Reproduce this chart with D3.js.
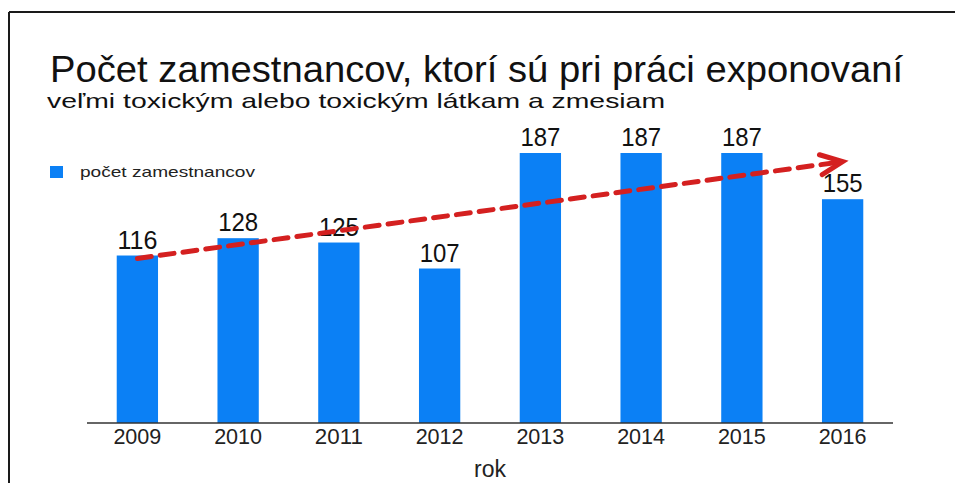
<!DOCTYPE html>
<html>
<head>
<meta charset="utf-8">
<script src="https://cdn.jsdelivr.net/npm/d3@7/dist/d3.min.js"></script>
<style>
  html, body { margin: 0; padding: 0; background: #fff; }
  svg { display: block; font-family: "Liberation Sans", Arial, sans-serif; }
</style>
</head>
<body>
<svg id="chart" width="955" height="483"></svg>
<script>
// ---- data ----
const years = ["2009", "2010", "2011", "2012", "2013", "2014", "2015", "2016"];
const employees = [116, 128, 125, 107, 187, 187, 187, 155];
const seriesName = "počet zamestnancov";
const titleText = "Počet zamestnancov, ktorí sú pri práci exponovaní";
const subtitleText = "veľmi toxickým alebo toxickým látkam a zmesiam";
const xAxisTitle = "rok";
// trend arrow (annotation), in data terms: [category, value]
const trendStart = ["2009", 114];
const trendEnd = ["2016", 181];

// ---- layout ----
const svg = d3.select("#chart");
const W = 955, H = 483;

// frame (top and left border)
svg.append("line").attr("x1", 9).attr("y1", 12).attr("x2", W).attr("y2", 12)
  .attr("stroke", "#1a1a1a").attr("stroke-width", 2);
svg.append("line").attr("x1", 9).attr("y1", 12).attr("x2", 9).attr("y2", H)
  .attr("stroke", "#1a1a1a").attr("stroke-width", 2);

// titles
svg.append("text").attr("x", 50).attr("y", 82)
  .attr("font-size", 37.5).attr("fill", "#111")
  .attr("textLength", 853).attr("lengthAdjust", "spacingAndGlyphs")
  .text(titleText);
svg.append("text").attr("x", 47).attr("y", 108)
  .attr("font-size", 21).attr("fill", "#111")
  .attr("textLength", 618).attr("lengthAdjust", "spacingAndGlyphs")
  .text(subtitleText);

// scales
const x = d3.scaleBand().domain(years).range([87, 893]).paddingInner(0.59).paddingOuter(0.295);
const y = d3.scaleLinear().domain([0, 187]).range([423, 153]);

// legend
svg.append("rect").attr("x", 50).attr("y", 166).attr("width", 13).attr("height", 12)
  .attr("fill", "#0b80f5");
svg.append("text").attr("x", 80).attr("y", 177)
  .attr("font-size", 15).attr("fill", "#222")
  .attr("textLength", 175).attr("lengthAdjust", "spacingAndGlyphs")
  .text(seriesName);

// bars
const data = years.map((yr, i) => ({ year: yr, value: employees[i] }));
svg.append("g").selectAll("rect").data(data).join("rect")
  .attr("x", d => x(d.year))
  .attr("y", d => y(d.value))
  .attr("width", x.bandwidth())
  .attr("height", d => y(0) - y(d.value))
  .attr("fill", "#0b80f5");

// value labels
svg.append("g").selectAll("text").data(data).join("text")
  .attr("x", d => x(d.year) + x.bandwidth() / 2)
  .attr("y", d => y(d.value) - 7)
  .attr("text-anchor", "middle")
  .attr("font-size", 26).attr("fill", "#111")
  .attr("textLength", 40).attr("lengthAdjust", "spacingAndGlyphs")
  .text(d => d.value);

// x axis
const xAxis = d3.axisBottom(x).tickSize(0).tickPadding(0);
const gx = svg.append("g").attr("transform", `translate(0,${y(0)})`).call(xAxis);
gx.select(".domain").attr("stroke", "#333").attr("stroke-width", 1.5)
  .attr("d", `M87,0H893`);
gx.selectAll(".tick text")
  .attr("font-family", "Liberation Sans, Arial, sans-serif")
  .attr("font-size", 22).attr("fill", "#222")
  .attr("dy", 0).attr("y", 21)
  .attr("textLength", 48).attr("lengthAdjust", "spacingAndGlyphs");

svg.append("text").attr("x", (87 + 893) / 2).attr("y", 477)
  .attr("text-anchor", "middle").attr("font-size", 23).attr("fill", "#222")
  .text(xAxisTitle);

// trend arrow
const x0 = x(trendStart[0]) + x.bandwidth() / 2, y0 = y(trendStart[1]);
const x1 = x(trendEnd[0]) + x.bandwidth() / 2, y1 = y(trendEnd[1]);
svg.append("line").attr("x1", x0).attr("y1", y0).attr("x2", x1 - 6).attr("y2", y1 + 0.8)
  .attr("stroke", "#d42020").attr("stroke-width", 5)
  .attr("stroke-dasharray", "14 9").attr("stroke-linecap", "round");
const ang = Math.atan2(y1 - y0, x1 - x0);
const hx = (dx, dy) => x1 + dx * Math.cos(ang) - dy * Math.sin(ang);
const hy = (dx, dy) => y1 + dx * Math.sin(ang) + dy * Math.cos(ang);
svg.append("path")
  .attr("d", `M${hx(-22, -10)},${hy(-22, -10)}L${hx(0, 0)},${hy(0, 0)}L${hx(-22, 10)},${hy(-22, 10)}`)
  .attr("fill", "none").attr("stroke", "#d42020").attr("stroke-width", 5)
  .attr("stroke-linecap", "round").attr("stroke-linejoin", "miter");
</script>
</body>
</html>
